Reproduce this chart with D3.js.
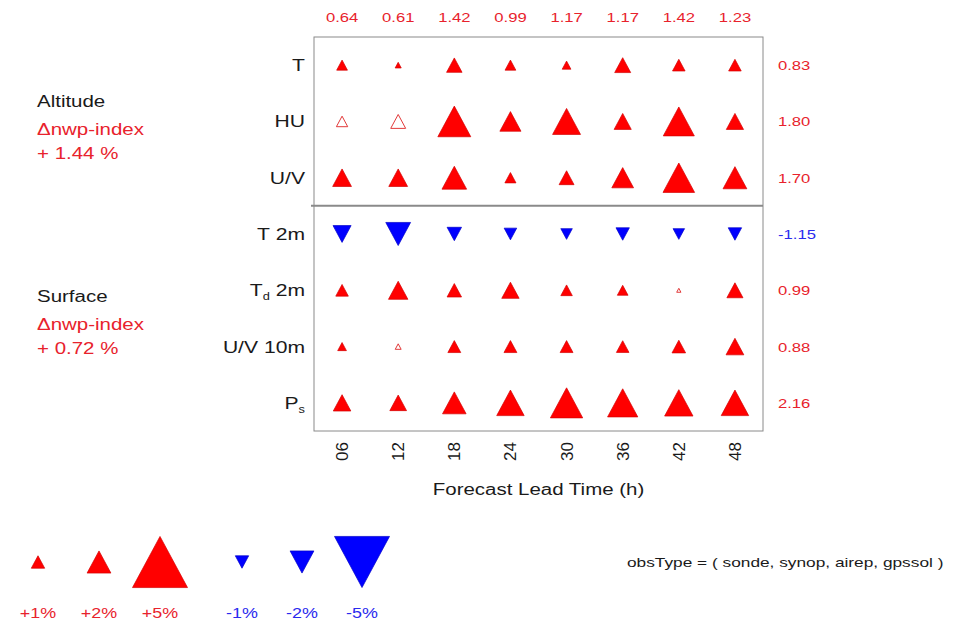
<!DOCTYPE html>
<html>
<head>
<meta charset="utf-8">
<script src="https://cdn.jsdelivr.net/npm/d3@7"></script>
<style>
  html, body { margin: 0; padding: 0; background: #fff; }
  #scorecard { width: 976px; height: 621px; }
</style>
</head>
<body>
<div id="scorecard"></div>
<script>
// lead times (columns) and variables (rows)
const leadTimes = ["06", "12", "18", "24", "30", "36", "42", "48"];
const variables = ["T", "HU", "U/V", "T 2m", "Td 2m", "U/V 10m", "Ps"];
// label pieces: base, subscript, suffix
const varLabels = [["T", "", ""], ["HU", "", ""], ["U/V", "", ""], ["T", "", " 2m"],
                   ["T", "d", " 2m"], ["U/V", "", " 10m"], ["P", "s", ""]];

// relative impact (%) per lead time
const scoreT     = [0.75, 0.30, 1.20, 0.75, 0.55, 1.25, 0.92, 0.92];
const scoreHU    = [0.80, 1.15, 2.88, 1.74, 2.40, 1.36, 2.70, 1.37];
const scoreUV    = [1.52, 1.52, 2.08, 0.78, 1.15, 1.80, 2.75, 2.00];
const scoreT2m   = [-1.45, -2.10, -1.10, -0.92, -0.82, -1.00, -0.82, -1.00];
const scoreTd2m  = [0.92, 1.58, 1.10, 1.38, 0.82, 0.74, 0.12, 1.26];
const scoreUV10m = [0.55, 0.28, 0.95, 0.95, 0.95, 0.92, 1.02, 1.42];
const scorePs    = [1.40, 1.32, 1.98, 2.35, 2.82, 2.62, 2.44, 2.35];
const rowScores = [scoreT, scoreHU, scoreUV, scoreT2m, scoreTd2m, scoreUV10m, scorePs];

// cells drawn hollow (not significant)
const notSignificant = [["HU", "06"], ["HU", "12"], ["Td 2m", "42"], ["U/V 10m", "12"]];

// summary numbers printed around the grid
const colMeans = ["0.64", "0.61", "1.42", "0.99", "1.17", "1.17", "1.42", "1.23"];
const rowMeans = ["0.83", "1.80", "1.70", "-1.15", "0.99", "0.88", "2.16"];

const groupNames = ["Altitude", "Surface"];
const groupIndex = ["+ 1.44 %", "+ 0.72 %"];

const legendValues = [1, 2, 5, -1, -2, -5];
const obsTypes = ["sonde", "synop", "airep", "gpssol"];

const RED = "#ff0000", BLUE = "#0000ff";
const TXT_RED = "#e8222c", TXT_BLUE = "#2a2aee";
const FONT = "'Liberation Sans', Arial, sans-serif";
const SX = 1.28; // the original picture is stretched sideways

let div = document.getElementById("scorecard");
let svg = d3.select(div).append("svg")
    .attr("width", 976)
    .attr("height", 621)
    .style("font-family", FONT);

svg.append("rect").attr("width", 976).attr("height", 621).attr("fill", "#fff");

let x = d3.scaleBand().domain(leadTimes).range([314, 763]);
let y = d3.scaleBand().domain(variables).range([37, 431]);
let size = d3.scaleLinear().domain([0, 5]).range([3, 55]);

function stretched(sel, px, py) {
    return sel.attr("transform", `translate(${px},${py}) scale(${SX},1)`);
}

function triangle(v) {
    let w = size(Math.abs(v));
    let h = w * 0.93;
    let p = d3.path();
    if (v >= 0) {
        p.moveTo(0, -h / 2); p.lineTo(w / 2, h / 2); p.lineTo(-w / 2, h / 2);
    } else {
        p.moveTo(0, h / 2); p.lineTo(w / 2, -h / 2); p.lineTo(-w / 2, -h / 2);
    }
    p.closePath();
    return p.toString();
}

// box
svg.append("rect")
    .attr("x", x.range()[0]).attr("y", y.range()[0])
    .attr("width", x.range()[1] - x.range()[0])
    .attr("height", y.range()[1] - y.range()[0])
    .attr("fill", "none")
    .attr("stroke", "#8a8a8a")
    .attr("stroke-width", 1);

// altitude / surface separator
svg.append("line")
    .attr("x1", x.range()[0] - 3).attr("x2", x.range()[1])
    .attr("y1", y("T 2m")).attr("y2", y("T 2m"))
    .attr("stroke", "#8a8a8a")
    .attr("stroke-width", 2);

// cells
let cells = variables.flatMap((v, i) => rowScores[i].map((val, j) => ({
    v: v, t: leadTimes[j], val: val,
    sig: !notSignificant.some(d => d[0] === v && d[1] === leadTimes[j])
})));

svg.append("g").selectAll("path").data(cells).enter().append("path")
    .attr("transform", d => `translate(${x(d.t) + x.bandwidth() / 2},${y(d.v) + y.bandwidth() / 2})`)
    .attr("d", d => triangle(d.val))
    .attr("fill", d => d.sig ? (d.val >= 0 ? RED : BLUE) : "#fff")
    .attr("stroke", d => d.val >= 0 ? (d.sig ? "#d40000" : "#e23a3a") : "#0000c8")
    .attr("stroke-width", d => d.sig ? 0.7 : 1);

// column means (top)
svg.append("g").selectAll("text").data(colMeans).enter().append("text")
    .call(s => s.each(function (d, i) {
        stretched(d3.select(this), x(leadTimes[i]) + x.bandwidth() / 2, 22);
    }))
    .attr("text-anchor", "middle")
    .attr("font-size", 13)
    .attr("fill", d => +d < 0 ? TXT_BLUE : TXT_RED)
    .text(d => d);

// row means (right)
svg.append("g").selectAll("text").data(rowMeans).enter().append("text")
    .call(s => s.each(function (d, i) {
        stretched(d3.select(this), 778, y(variables[i]) + y.bandwidth() / 2 + 5);
    }))
    .attr("text-anchor", "start")
    .attr("font-size", 13)
    .attr("fill", d => +d < 0 ? TXT_BLUE : TXT_RED)
    .text(d => d);

// row labels
let rowLab = svg.append("g").selectAll("text").data(varLabels).enter().append("text")
    .call(s => s.each(function (d, i) {
        stretched(d3.select(this), 305, y(variables[i]) + y.bandwidth() / 2 + 6);
    }))
    .attr("text-anchor", "end")
    .attr("font-size", 16.5)
    .attr("fill", "#1a1a1a");
rowLab.append("tspan").text(d => d[0]);
rowLab.filter(d => d[1] !== "").append("tspan")
    .attr("font-size", 10).attr("dy", 4).text(d => d[1]);
rowLab.filter(d => d[2] !== "").append("tspan")
    .attr("dy", d => d[1] !== "" ? -4 : 0).text(d => d[2]);

// group captions (left)
let groupRows = [["T", "HU", "U/V"], ["T 2m", "Td 2m", "U/V 10m", "Ps"]];
groupNames.forEach((name, i) => {
    let rows = groupRows[i];
    let mid = (y(rows[0]) + y(rows[rows.length - 1]) + y.bandwidth()) / 2;
    let base = mid - (i === 0 ? 14 : 16);
    let g = svg.append("g").attr("font-size", 16);
    stretched(g.append("text"), 37, base).attr("fill", "#1a1a1a").text(name);
    stretched(g.append("text"), 37, base + 28).attr("fill", TXT_RED).text("\u0394nwp-index");
    stretched(g.append("text"), 37, base + 52).attr("fill", TXT_RED).text(groupIndex[i]);
});

// x axis
let xAxis = svg.append("g")
    .attr("transform", `translate(0,${y.range()[1]})`)
    .call(d3.axisBottom(x).tickSize(0))
    .attr("font-family", FONT);
xAxis.select(".domain").remove();
xAxis.selectAll(".tick text")
    .attr("font-size", 17)
    .attr("fill", "#1a1a1a")
    .attr("text-anchor", "end")
    .attr("x", 0).attr("y", 0).attr("dy", "0.35em")
    .attr("transform", "translate(0,11) rotate(-90)");

stretched(svg.append("text"), (x.range()[0] + x.range()[1]) / 2, 495)
    .attr("text-anchor", "middle")
    .attr("font-size", 16)
    .attr("fill", "#1a1a1a")
    .text("Forecast Lead Time (h)");

// legend
let legPos = d3.scalePoint().domain([1, 2, 5]).range([38, 160]);
let legNeg = d3.scalePoint().domain([-1, -2, -5]).range([242, 362]);
let legX = v => v > 0 ? legPos(v) : legNeg(v);

let leg = svg.append("g").selectAll("g").data(legendValues).enter().append("g");
leg.append("path")
    .attr("transform", d => `translate(${legX(d)},562)`)
    .attr("d", d => triangle(d))
    .attr("fill", d => d > 0 ? RED : BLUE)
    .attr("stroke", d => d > 0 ? "#d40000" : "#0000c8")
    .attr("stroke-width", 0.7);
leg.append("text")
    .each(function (d) { stretched(d3.select(this), legX(d), 618); })
    .attr("text-anchor", "middle")
    .attr("font-size", 14)
    .attr("fill", d => d > 0 ? TXT_RED : TXT_BLUE)
    .text(d => (d > 0 ? "+" : "-") + Math.abs(d) + "%");

stretched(svg.append("text"), 627, 567)
    .attr("font-size", 13.5)
    .attr("fill", "#1a1a1a")
    .text("obsType = ( " + obsTypes.join(", ") + " )");
</script>
</body>
</html>
